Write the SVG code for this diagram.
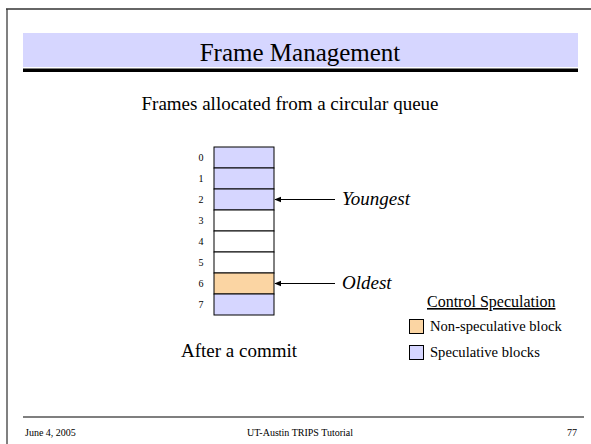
<svg xmlns="http://www.w3.org/2000/svg" width="591" height="444" viewBox="0 0 591 444">
<style>
text{font-family:"Liberation Serif","Times New Roman",serif;fill:#000}
.idx{font-size:10px;text-anchor:middle}
.spec{fill:#D6D6FF;stroke:#000;stroke-width:1}
.free{fill:#fff;stroke:#000;stroke-width:1}
.nons{fill:#FBD5A3;stroke:#000;stroke-width:1}
.lbl{font-size:19px;font-style:italic}
.ft{font-size:10px}
</style>
<defs>
<marker id="ah" viewBox="0 0 10 10" refX="9" refY="5" markerWidth="7" markerHeight="7" orient="auto" markerUnits="userSpaceOnUse">
<path d="M0,1 L10,5 L0,9 z" fill="#000"/>
</marker>
</defs>
<rect width="591" height="444" fill="#fff"/>
<g id="frame">
<line x1="7" y1="9" x2="7" y2="444" stroke="#808080" stroke-width="2"/>
<line x1="6" y1="9" x2="591" y2="9" stroke="#333" stroke-width="1.5"/>
</g>
<g id="title">
<rect x="23" y="33" width="555" height="34" fill="#D6D6FF"/>
<rect x="23" y="68.5" width="555" height="3.5" fill="#000"/>
<text x="300" y="61" font-size="25" text-anchor="middle">Frame Management</text>
</g>
<text id="subtitle" x="290" y="110" font-size="19" text-anchor="middle">Frames allocated from a circular queue</text>
<g id="queue">
<rect class="spec" x="214" y="147" width="60" height="21"/>
<rect class="spec" x="214" y="168" width="60" height="21"/>
<rect class="spec" x="214" y="189" width="60" height="21"/>
<rect class="free" x="214" y="210" width="60" height="21"/>
<rect class="free" x="214" y="231" width="60" height="21"/>
<rect class="free" x="214" y="252" width="60" height="21"/>
<rect class="nons" x="214" y="273" width="60" height="21"/>
<rect class="spec" x="214" y="294" width="60" height="21"/>
<text class="idx" x="201" y="161">0</text>
<text class="idx" x="201" y="182">1</text>
<text class="idx" x="201" y="203">2</text>
<text class="idx" x="201" y="224">3</text>
<text class="idx" x="201" y="245">4</text>
<text class="idx" x="201" y="266">5</text>
<text class="idx" x="201" y="287">6</text>
<text class="idx" x="201" y="308">7</text>
</g>
<g id="connectors">
<line x1="335" y1="199.5" x2="275" y2="199.5" stroke="#000" stroke-width="1" marker-end="url(#ah)"/>
<line x1="335" y1="283.5" x2="275" y2="283.5" stroke="#000" stroke-width="1" marker-end="url(#ah)"/>
</g>
<text id="youngest" class="lbl" x="342" y="205">Youngest</text>
<text id="oldest" class="lbl" x="342" y="289">Oldest</text>
<text id="after" x="181" y="357" font-size="19">After a commit</text>
<g id="legend">
<text x="427" y="307" font-size="16" text-decoration="underline">Control Speculation</text>
<rect class="nons" x="409.5" y="319.5" width="14" height="14" stroke="#333"/>
<text x="430" y="331" font-size="14.6">Non-speculative block</text>
<rect class="spec" x="409.5" y="345.5" width="14" height="14" stroke="#333"/>
<text x="430" y="357" font-size="14.6">Speculative blocks</text>
</g>
<g id="footer">
<line x1="23" y1="417" x2="584" y2="417" stroke="#000" stroke-width="1.2"/>
<text class="ft" x="25" y="436">June 4, 2005</text>
<text class="ft" x="300" y="436" text-anchor="middle">UT-Austin TRIPS Tutorial</text>
<text class="ft" x="577" y="436" text-anchor="end">77</text>
</g>
</svg>
